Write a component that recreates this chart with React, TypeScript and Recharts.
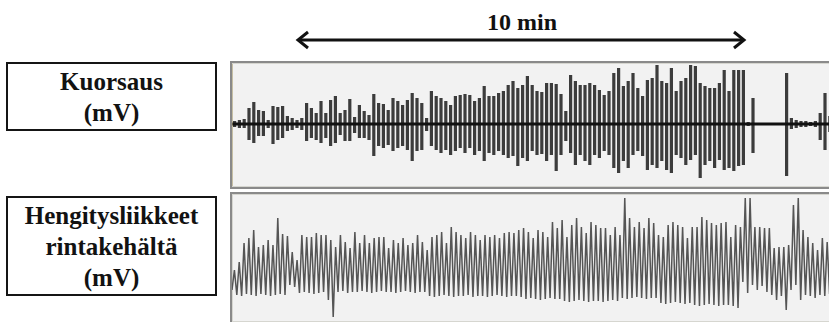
import { Bar, BarChart, Line, LineChart, ReferenceLine, XAxis, YAxis } from 'recharts';

// snoring bursts (mV-ish), amplitude above / below baseline per burst
const snoreUp = [
    3, 4, 5, 16, 22, 14, 13, 4, 18, 17,
    18, 8, 6, 4, 6, 21, 16, 11, 23, 11,
    24, 28, 11, 14, 25, 7, 19, 13, 9, 30,
    21, 20, 14, 26, 23, 19, 24, 31, 26, 21,
    6, 33, 28, 26, 23, 19, 28, 29, 30, 29,
    23, 26, 38, 28, 28, 31, 33, 39, 43, 36,
    39, 48, 39, 33, 32, 41, 41, 40, 30, 13,
    49, 43, 39, 39, 41, 39, 34, 29, 33, 51,
    56, 38, 43, 51, 36, 28, 44, 46, 59, 43,
    41, 56, 33, 43, 46, 59, 58, 41, 38, 36,
    36, 41, 54, 33, 54, 54, 54, 2, 26, 1,
    1, 1, 1, 1, 1, 51, 6, 4, 3, 3,
    2, 3, 11, 31, 8,
];
const snoreDown = [
    3, 4, 4, 16, 19, 12, 12, 4, 20, 16,
    14, 7, 6, 4, 6, 17, 14, 16, 19, 14,
    22, 19, 11, 17, 17, 9, 14, 14, 16, 32,
    22, 24, 21, 27, 24, 22, 26, 37, 27, 26,
    7, 22, 26, 29, 26, 31, 27, 24, 29, 24,
    31, 27, 37, 29, 31, 27, 31, 34, 32, 42,
    34, 37, 27, 31, 30, 37, 31, 47, 31, 17,
    29, 41, 31, 37, 41, 31, 34, 27, 31, 44,
    49, 37, 44, 31, 27, 32, 46, 41, 44, 37,
    46, 49, 31, 34, 41, 36, 31, 54, 41, 37,
    44, 36, 46, 44, 47, 42, 41, 2, 29, 1,
    1, 1, 1, 1, 1, 52, 5, 4, 3, 3,
    2, 3, 16, 26, 8,
];

// chest breathing movements, peak and trough of each breath
const breathPeaks = [
    50, 58, 77, 82, 90, 73, 75, 80, 75, 102,
    86, 84, 68, 60, 85, 83, 83, 87, 85, 85,
    80, 73, 85, 78, 72, 88, 77, 85, 77, 82,
    83, 83, 72, 80, 77, 82, 75, 77, 85, 78,
    70, 83, 85, 88, 77, 93, 88, 85, 82, 88,
    85, 80, 85, 83, 85, 82, 87, 88, 87, 90,
    92, 88, 82, 90, 88, 83, 98, 92, 100, 83,
    95, 102, 93, 87, 98, 95, 92, 92, 85, 93,
    85, 122, 102, 93, 98, 92, 102, 97, 85, 83,
    95, 98, 95, 93, 82, 93, 93, 103, 100, 97,
    95, 97, 98, 83, 95, 93, 122, 122, 93, 93,
    92, 92, 72, 73, 73, 75, 115, 122, 90, 83,
    77, 70, 82, 78, 80,
];
const breathTroughs = [
    30, 25, 24, 26, 25, 24, 26, 25, 24, 25,
    26, 25, 35, 33, 27, 28, 27, 26, 27, 28,
    20, 3, 28, 29, 27, 28, 28, 29, 28, 27,
    28, 29, 28, 28, 27, 28, 29, 28, 27, 28,
    28, 24, 23, 24, 25, 24, 23, 24, 24, 25,
    23, 24, 24, 23, 24, 25, 24, 23, 24, 24,
    23, 21, 22, 21, 20, 21, 22, 21, 21, 19,
    18, 19, 20, 19, 18, 19, 19, 18, 19, 20,
    19, 22, 21, 22, 23, 22, 21, 22, 22, 17,
    16, 17, 18, 17, 16, 17, 15, 14, 15, 16,
    15, 14, 15, 15, 14, 12, 38, 27, 35, 30,
    34, 28, 25, 20, 24, 10, 30, 35, 20, 25,
    24, 22, 25, 24, 26,
];

const scaleTicks = [
    -60, -56, -52, -48, -44, -40, -36, -32, -28, -24, -20, -16, -12, -8, -4, 0,
    4, 8, 12, 16, 20, 24, 28, 32, 36, 40, 44, 48, 52, 56, 60,
];

const labelFont = '"Liberation Serif", "Times New Roman", serif';

const snoreData = snoreUp.map((u, i) => ({i, range: [-snoreDown[i], u]}));
const breathData = breathPeaks.flatMap((p, i) => [
    {i: i * 2, v: breathTroughs[i]},
    {i: i * 2 + 1, v: p},
]);

const labelBox = (top: number, height: number): React.CSSProperties => ({
    position: 'absolute',
    left: 6,
    top,
    width: 211,
    height,
    boxSizing: 'border-box',
    border: '2px solid #151515',
    display: 'flex',
    flexDirection: 'column',
    justifyContent: 'center',
    alignItems: 'center',
    fontFamily: labelFont,
    fontWeight: 'bold',
    fontSize: 25,
    lineHeight: '31px',
    color: '#121212',
});

const panel = (top: number, height: number): React.CSSProperties => ({
    position: 'absolute',
    left: 230,
    top,
    width: 640,
    height,
    boxSizing: 'border-box',
    border: '2px solid #8a8a8a',
    boxShadow: 'inset 0 0 0 1px #d6d6d0',
    background: '#f2f2f2',
});

export default function App(): React.ReactElement {
    return (
        <div style={{position: 'absolute', left: 0, top: 0, width: 829, height: 322, overflow: 'hidden', background: '#fff'}}>
            <svg width={829} height={60} style={{position: 'absolute', left: 0, top: 0}}>
                <text
                    x={522}
                    y={30}
                    textAnchor={'middle'}
                    style={{fontFamily: labelFont, fontWeight: 'bold', fontSize: 24}}
                    fill={'#111'}
                >10 min</text>
                <line x1={299} y1={40} x2={743} y2={40} stroke={'#111'} strokeWidth={3} />
                <polyline points={'308,32 298,40 308,48'} fill={'none'} stroke={'#111'} strokeWidth={3} />
                <polyline points={'734,32 744,40 734,48'} fill={'none'} stroke={'#111'} strokeWidth={3} />
            </svg>

            <div style={labelBox(62, 69)}>
                <span>Kuorsaus</span>
                <span>(mV)</span>
            </div>
            <div style={labelBox(196, 100)}>
                <span>Hengitysliikkeet</span>
                <span>rintakehältä</span>
                <span>(mV)</span>
            </div>

            <div style={panel(61, 128)} />
            <div style={panel(192, 132)} />

            <div style={{position: 'absolute', left: 232, top: 64}}>
                <BarChart
                    width={600}
                    height={122}
                    data={snoreData}
                    margin={{top: 0, right: 0, bottom: 0, left: 0}}
                >
                    <XAxis dataKey={'i'} hide />
                    <YAxis
                        type={'number'}
                        domain={[-62, 60]}
                        allowDataOverflow
                        mirror
                        ticks={scaleTicks}
                        tick={false}
                        tickSize={2}
                        axisLine={{stroke: '#b5a878'}}
                        tickLine={{stroke: '#b5a878'}}
                    />
                    <Bar
                        dataKey={'range'}
                        fill={'#1c1c1c'}
                        fillOpacity={0.85}
                        barSize={3.2}
                        isAnimationActive={false}
                    />
                    <ReferenceLine y={0} stroke={'#111'} strokeWidth={3} />
                </BarChart>
            </div>

            <div style={{position: 'absolute', left: 232, top: 194}}>
                <LineChart
                    width={600}
                    height={126}
                    data={breathData}
                    margin={{top: 0, right: 0, bottom: 0, left: 0}}
                >
                    <XAxis dataKey={'i'} hide />
                    <YAxis type={'number'} domain={[0, 126]} allowDataOverflow hide />
                    <Line
                        type={'linear'}
                        dataKey={'v'}
                        stroke={'#555'}
                        strokeWidth={1.5}
                        dot={false}
                        isAnimationActive={false}
                    />
                </LineChart>
            </div>
        </div>
    );
}
